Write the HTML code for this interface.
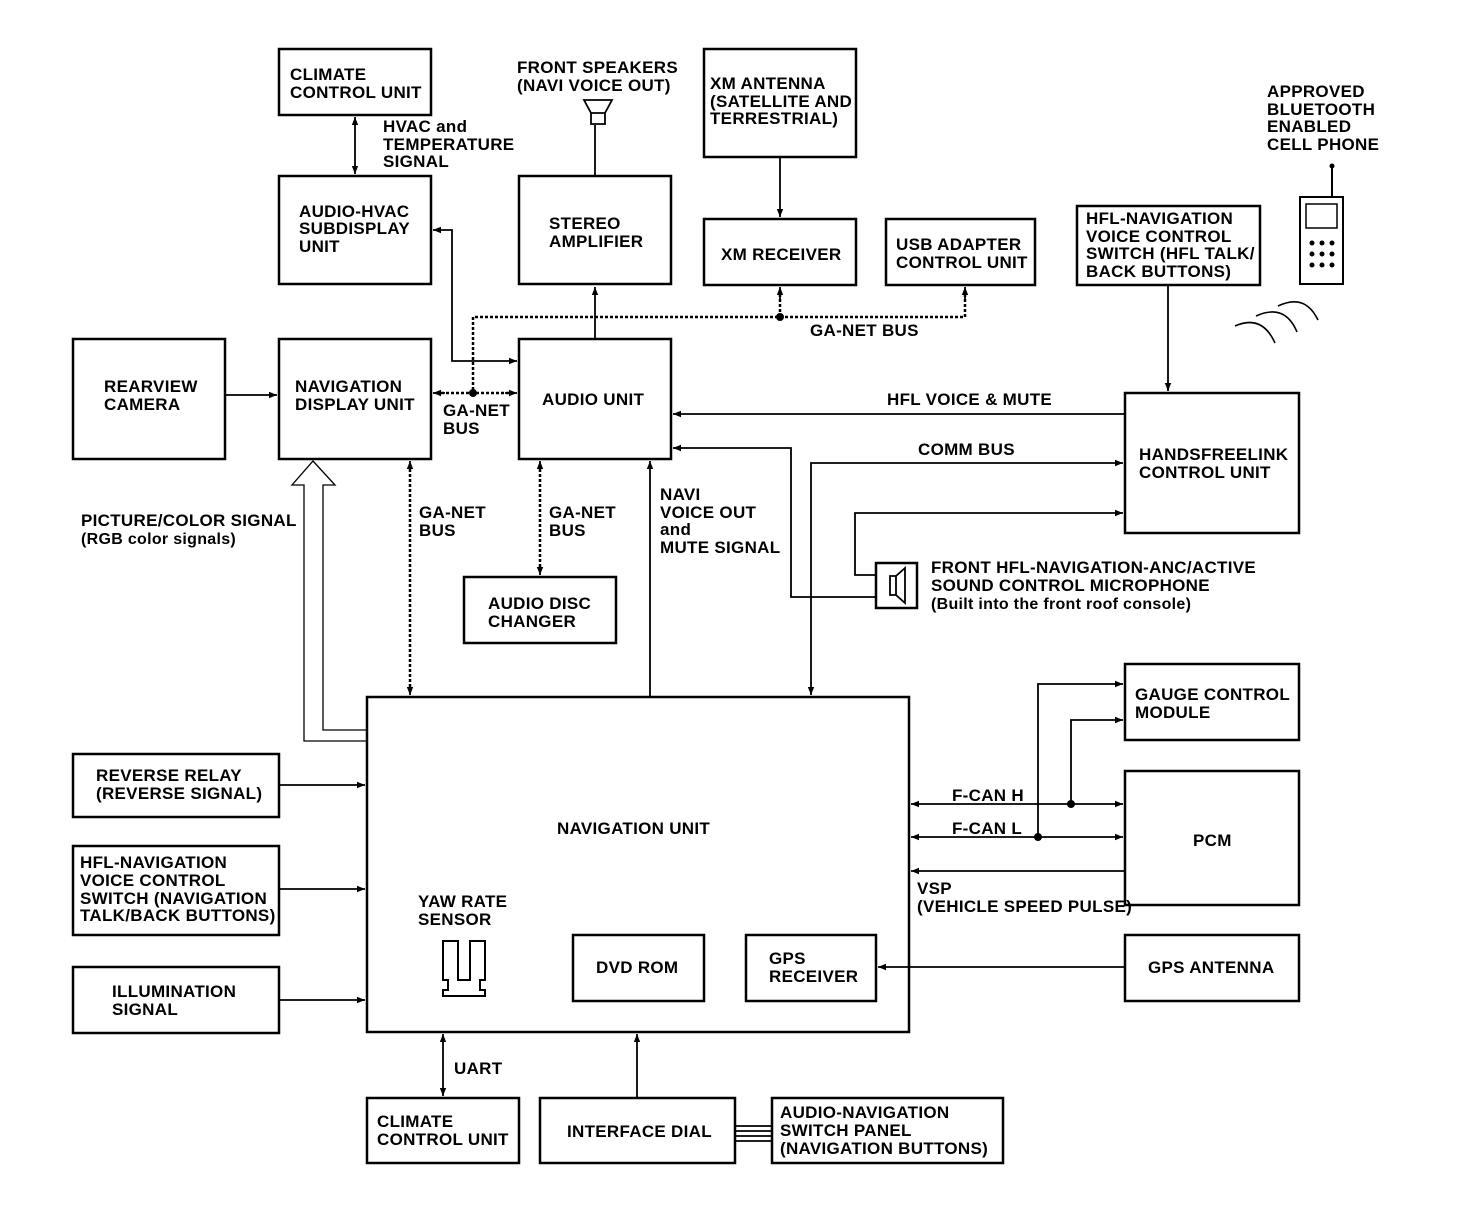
<!DOCTYPE html>
<html><head><meta charset="utf-8"><style>
body{margin:0;background:#fff}
svg text{font-family:"Liberation Sans",Arial,sans-serif;font-weight:bold;font-size:17px;letter-spacing:0.3px;fill:#000}
</style></head><body>
<svg width="1472" height="1216" viewBox="0 0 1472 1216" xmlns="http://www.w3.org/2000/svg">
<defs>
<marker id="a" viewBox="0 0 10 10" refX="10" refY="5" markerWidth="10" markerHeight="8" orient="auto-start-reverse" markerUnits="userSpaceOnUse"><path d="M0,1 L10,5 L0,9z" fill="#000"/></marker>
</defs>
<g fill="none" stroke="#000" stroke-width="2.5">
<rect x="279" y="49" width="152" height="66"/>
<rect x="279" y="176" width="152" height="108"/>
<rect x="519" y="176" width="152" height="108"/>
<rect x="704" y="49" width="152" height="108"/>
<rect x="704" y="219" width="152" height="66"/>
<rect x="886" y="219" width="149" height="66"/>
<rect x="1077" y="206" width="183" height="79"/>
<rect x="73" y="339" width="152" height="120"/>
<rect x="279" y="339" width="152" height="120"/>
<rect x="519" y="339" width="152" height="120"/>
<rect x="1125" y="393" width="174" height="140"/>
<rect x="464" y="577" width="152" height="66"/>
<rect x="876" y="563" width="41" height="45"/>
<rect x="1125" y="664" width="174" height="76"/>
<rect x="1125" y="771" width="174" height="134"/>
<rect x="367" y="697" width="542" height="335"/>
<rect x="73" y="754" width="206" height="63"/>
<rect x="73" y="846" width="206" height="89"/>
<rect x="73" y="967" width="206" height="66"/>
<rect x="573" y="935" width="131" height="66"/>
<rect x="746" y="935" width="130" height="66"/>
<rect x="1125" y="935" width="174" height="66"/>
<rect x="367" y="1098" width="152" height="65"/>
<rect x="540" y="1098" width="195" height="65"/>
<rect x="772" y="1098" width="231" height="65"/>
</g>
<g fill="none" stroke="#000" stroke-width="1.8">
<line x1="355" y1="117" x2="355" y2="174" marker-start="url(#a)" marker-end="url(#a)"/>
<line x1="595" y1="176" x2="595" y2="125"/>
<line x1="780" y1="157" x2="780" y2="217" marker-end="url(#a)"/>
<line x1="595" y1="339" x2="595" y2="287" marker-end="url(#a)"/>
<polyline points="517,361 452,361 452,230 433,230" marker-start="url(#a)" marker-end="url(#a)"/>
<line x1="225" y1="395" x2="277" y2="395" marker-end="url(#a)"/>
<line x1="1125" y1="414" x2="673" y2="414" marker-end="url(#a)"/>
<polyline points="811,695 811,463 1123,463" marker-start="url(#a)" marker-end="url(#a)"/>
<polyline points="876,597 791,597 791,448 673,448" marker-end="url(#a)"/>
<polyline points="876,575 855,575 855,513 1123,513" marker-end="url(#a)"/>
<line x1="1168" y1="285" x2="1168" y2="391" marker-end="url(#a)"/>
<line x1="650" y1="697" x2="650" y2="461" marker-end="url(#a)"/>
<line x1="279" y1="785" x2="365" y2="785" marker-end="url(#a)"/>
<line x1="279" y1="889" x2="365" y2="889" marker-end="url(#a)"/>
<line x1="279" y1="1000" x2="365" y2="1000" marker-end="url(#a)"/>
<line x1="911" y1="804" x2="1123" y2="804" marker-start="url(#a)" marker-end="url(#a)"/>
<line x1="911" y1="837" x2="1123" y2="837" marker-start="url(#a)" marker-end="url(#a)"/>
<polyline points="1038,837 1038,684 1123,684" marker-end="url(#a)"/>
<polyline points="1071,804 1071,720 1123,720" marker-end="url(#a)"/>
<line x1="1125" y1="871" x2="911" y2="871" marker-end="url(#a)"/>
<line x1="1125" y1="967" x2="878" y2="967" marker-end="url(#a)"/>
<line x1="443" y1="1034" x2="443" y2="1096" marker-start="url(#a)" marker-end="url(#a)"/>
<line x1="637" y1="1098" x2="637" y2="1034" marker-end="url(#a)"/>
<line x1="735" y1="1126" x2="772" y2="1126"/><line x1="735" y1="1131" x2="772" y2="1131"/><line x1="735" y1="1136" x2="772" y2="1136"/><line x1="735" y1="1141" x2="772" y2="1141"/>
<g stroke-dasharray="3,2" stroke-width="2.5">
<polyline points="473,395 473,317 965,317 965,290"/>
<line x1="780" y1="317" x2="780" y2="290"/>
<line x1="436" y1="393" x2="514" y2="393"/>
<line x1="410" y1="464" x2="410" y2="692"/>
<line x1="540" y1="464" x2="540" y2="572"/>
</g>
<line x1="965" y1="300" x2="965" y2="287" marker-end="url(#a)"/>
<line x1="780" y1="300" x2="780" y2="287" marker-end="url(#a)"/>
<line x1="445" y1="393" x2="433" y2="393" marker-end="url(#a)"/>
<line x1="505" y1="393" x2="517" y2="393" marker-end="url(#a)"/>
<line x1="410" y1="472" x2="410" y2="461" marker-end="url(#a)"/>
<line x1="410" y1="684" x2="410" y2="695" marker-end="url(#a)"/>
<line x1="540" y1="472" x2="540" y2="461" marker-end="url(#a)"/>
<line x1="540" y1="564" x2="540" y2="575" marker-end="url(#a)"/>
<polyline points="367,741 304,741 304,485 292,485 313,461 335,485 323,485 323,730 367,730" stroke-width="1.3"/>
<path d="M584,100 L612,100 L605,113 L591,113 Z M591,113 L591,124 L605,124 L605,113" stroke-width="1.8"/>
<path d="M890,576 L896,576 L896,595 L890,595 Z M896,576 L905,568 L905,603 L896,595" stroke-width="1.8"/>
<path d="M443,941 L458,941 L458,980 L470,980 L470,941 L485,941 L485,980 L480,980 L480,990 L485,990 L485,996 L443,996 L443,990 L448,990 L448,980 L443,980 Z" stroke-width="2"/>
<rect x="1300" y="197" width="43" height="87" stroke-width="2"/>
<rect x="1306" y="204" width="31" height="24" stroke-width="1.5"/>
<line x1="1332" y1="197" x2="1332" y2="166" stroke-width="2"/>
<path d="M1235,326 Q1262,314 1275,343 M1256,316 Q1285,303 1297,332 M1278,306 Q1305,293 1318,320" stroke-width="1.6"/>
</g>
<g fill="#000">
<circle cx="780" cy="317" r="4"/><circle cx="473" cy="393" r="4"/>
<circle cx="1071" cy="804" r="4"/><circle cx="1038" cy="837" r="4"/>
<circle cx="1332" cy="166" r="2.5"/>
<circle cx="1312" cy="243" r="2.5"/><circle cx="1322" cy="243" r="2.5"/><circle cx="1332" cy="243" r="2.5"/>
<circle cx="1312" cy="254" r="2.5"/><circle cx="1322" cy="254" r="2.5"/><circle cx="1332" cy="254" r="2.5"/>
<circle cx="1312" cy="265" r="2.5"/><circle cx="1322" cy="265" r="2.5"/><circle cx="1332" cy="265" r="2.5"/>
</g>
<g>
<text x="290" y="80">CLIMATE</text><text x="290" y="98">CONTROL UNIT</text>
<text x="383" y="132">HVAC and</text><text x="383" y="150">TEMPERATURE</text><text x="383" y="167">SIGNAL</text>
<text x="299" y="217">AUDIO-HVAC</text><text x="299" y="234">SUBDISPLAY</text><text x="299" y="252">UNIT</text>
<text x="517" y="73">FRONT SPEAKERS</text><text x="517" y="91">(NAVI VOICE OUT)</text>
<text x="549" y="229">STEREO</text><text x="549" y="247">AMPLIFIER</text>
<text x="710" y="89">XM ANTENNA</text><text x="710" y="107">(SATELLITE AND</text><text x="710" y="124">TERRESTRIAL)</text>
<text x="721" y="260">XM RECEIVER</text>
<text x="896" y="250">USB ADAPTER</text><text x="896" y="268">CONTROL UNIT</text>
<text x="1086" y="224">HFL-NAVIGATION</text><text x="1086" y="242">VOICE CONTROL</text><text x="1086" y="259">SWITCH (HFL TALK/</text><text x="1086" y="277">BACK BUTTONS)</text>
<text x="1267" y="97">APPROVED</text><text x="1267" y="115">BLUETOOTH</text><text x="1267" y="132">ENABLED</text><text x="1267" y="150">CELL PHONE</text>
<text x="810" y="336">GA-NET BUS</text>
<text x="104" y="392">REARVIEW</text><text x="104" y="410">CAMERA</text>
<text x="295" y="392">NAVIGATION</text><text x="295" y="410">DISPLAY UNIT</text>
<text x="542" y="405">AUDIO UNIT</text>
<text x="443" y="416">GA-NET</text><text x="443" y="434">BUS</text>
<text x="887" y="405">HFL VOICE &amp; MUTE</text>
<text x="918" y="455">COMM BUS</text>
<text x="1139" y="460">HANDSFREELINK</text><text x="1139" y="478">CONTROL UNIT</text>
<text x="81" y="526">PICTURE/COLOR SIGNAL</text>
<text x="81" y="544" style="font-size:16px">(RGB color signals)</text>
<text x="419" y="518">GA-NET</text><text x="419" y="536">BUS</text>
<text x="549" y="518">GA-NET</text><text x="549" y="536">BUS</text>
<text x="660" y="500">NAVI</text><text x="660" y="518">VOICE OUT</text><text x="660" y="535">and</text><text x="660" y="553">MUTE SIGNAL</text>
<text x="931" y="573">FRONT HFL-NAVIGATION-ANC/ACTIVE</text><text x="931" y="591">SOUND CONTROL MICROPHONE</text>
<text x="931" y="609" style="font-size:16px">(Built into the front roof console)</text>
<text x="488" y="609">AUDIO DISC</text><text x="488" y="627">CHANGER</text>
<text x="1135" y="700">GAUGE CONTROL</text><text x="1135" y="718">MODULE</text>
<text x="96" y="781">REVERSE RELAY</text><text x="96" y="799">(REVERSE SIGNAL)</text>
<text x="952" y="801">F-CAN H</text><text x="952" y="834">F-CAN L</text>
<text x="1193" y="846">PCM</text>
<text x="557" y="834">NAVIGATION UNIT</text>
<text x="917" y="894">VSP</text><text x="917" y="912">(VEHICLE SPEED PULSE)</text>
<text x="80" y="868">HFL-NAVIGATION</text><text x="80" y="886">VOICE CONTROL</text><text x="80" y="904">SWITCH (NAVIGATION</text><text x="80" y="921">TALK/BACK BUTTONS)</text>
<text x="418" y="907">YAW RATE</text><text x="418" y="925">SENSOR</text>
<text x="596" y="973">DVD ROM</text>
<text x="769" y="964">GPS</text><text x="769" y="982">RECEIVER</text>
<text x="1148" y="973">GPS ANTENNA</text>
<text x="112" y="997">ILLUMINATION</text><text x="112" y="1015">SIGNAL</text>
<text x="454" y="1074">UART</text>
<text x="377" y="1127">CLIMATE</text><text x="377" y="1145">CONTROL UNIT</text>
<text x="567" y="1137">INTERFACE DIAL</text>
<text x="780" y="1118">AUDIO-NAVIGATION</text><text x="780" y="1136">SWITCH PANEL</text><text x="780" y="1154">(NAVIGATION BUTTONS)</text>
</g>
</svg>
</body></html>
